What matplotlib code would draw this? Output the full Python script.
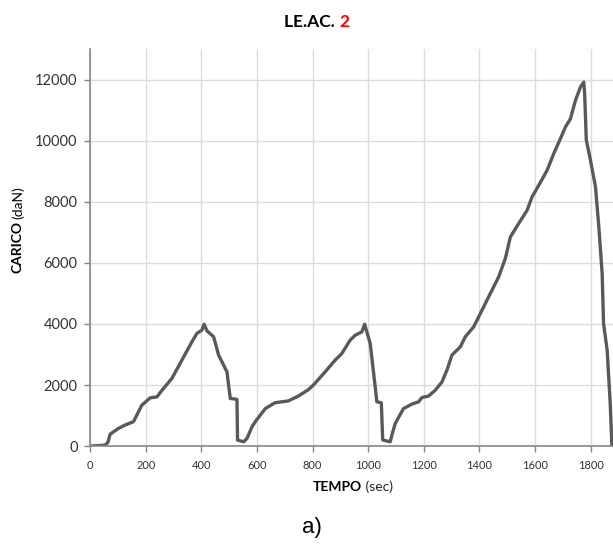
import numpy as np
import matplotlib
matplotlib.use('Agg')
from matplotlib import pyplot as plt
from matplotlib.offsetbox import TextArea, HPacker, AnnotationBbox

# time (sec) and load (daN)
tempo = [0, 54, 64, 72, 102, 126, 156, 186, 216, 240, 264, 294, 330, 366, 384, 402, 410,
         420, 444, 462, 492, 504, 528, 530, 552, 564, 582, 594, 630, 665, 713, 749, 785,
         803, 845, 881, 905, 935, 953, 977, 987, 1007, 1025, 1031, 1047, 1052, 1079, 1085,
         1097, 1127, 1157, 1181, 1193, 1217, 1241, 1265, 1283, 1301, 1331, 1349, 1379,
         1409, 1439, 1469, 1493, 1511, 1541, 1571, 1589, 1613, 1643, 1667, 1691, 1709,
         1727, 1745, 1763, 1775, 1778, 1784, 1799, 1817, 1829, 1841, 1846, 1859, 1870, 1876]
carico = [0, 30, 120, 390, 580, 690, 800, 1340, 1580, 1610, 1890, 2215, 2815, 3415, 3690,
          3800, 3990, 3775, 3580, 2980, 2430, 1560, 1530, 196, 140, 250, 630, 800, 1230,
          1420, 1480, 1640, 1850, 2000, 2430, 2815, 3030, 3470, 3630, 3740, 3990, 3360,
          1940, 1450, 1420, 200, 140, 360, 740, 1230, 1375, 1450, 1590, 1640, 1830, 2100,
          2490, 2980, 3250, 3580, 3905, 4450, 5000, 5540, 6150, 6850, 7290, 7720, 8160,
          8540, 9030, 9580, 10070, 10450, 10720, 11320, 11760, 11920, 11540, 10020, 9360,
          8490, 7180, 5650, 4020, 3140, 1400, 30]

xticks = list(range(0, 1801, 200))
yticks = list(range(0, 12001, 2000))

plt.rcParams['font.family'] = ['Lato', 'DejaVu Sans']

fig = plt.figure(figsize=(6.13, 5.46), dpi=100)
ax = fig.add_axes([0.147, 0.183, 0.853, 0.727])

ax.plot(tempo, carico, color='#595959', lw=2.4, solid_joinstyle='round')

ax.set_xlim(0, 1880)
ax.set_ylim(0, 13000)
ax.set_xticks(xticks)
ax.set_yticks(yticks)
ax.tick_params(axis='x', labelsize=8, colors='#868686', length=4, width=1, labelcolor='#333333', pad=6)
ax.tick_params(axis='y', labelsize=10.5, colors='#868686', length=4, width=1, labelcolor='#333333', pad=5)
ax.grid(True, color='#dcdcdc', lw=1)
ax.set_axisbelow(True)
for s in ['top', 'right']:
    ax.spines[s].set_visible(False)
for s in ['left', 'bottom']:
    ax.spines[s].set_color('#868686')
    ax.spines[s].set_linewidth(1.2)


def mixed(parts, xy):
    boxes = [TextArea(t, textprops=dict(fontsize=fs, fontweight=fw, color=c)) for t, fs, fw, c in parts]
    pack = HPacker(children=boxes, pad=0, sep=0, align='baseline')
    ab = AnnotationBbox(pack, xy, xycoords='figure pixels', frameon=False, box_alignment=(0.5, 0.5))
    fig.add_artist(ab)


# title with red number
mixed([('LE.AC. ', 12.5, 'bold', 'black'), ('2', 12.5, 'bold', 'red')], (317, 546 - 22))
# x label
mixed([('TEMPO', 10, 'bold', 'black'), (' (sec)', 10, 'normal', '#222222')], (353, 546 - 487))

# y label (rotated), drawn as two pieces
t1 = fig.text(18, 546 - 273, 'CARICO', rotation=90, fontsize=10, fontweight='bold',
              ha='center', va='bottom', transform=None)
fig.canvas.draw()
bb = t1.get_window_extent()
fig.text(bb.x0 + bb.width / 2, bb.y1 + 2, '(daN)', rotation=90, fontsize=10,
         ha='center', va='bottom', transform=None)

fig.text(312, 546 - 527, 'a)', fontsize=16, family='Liberation Sans', ha='center', va='center',
         transform=None)

plt.savefig('out.png', dpi=100)
